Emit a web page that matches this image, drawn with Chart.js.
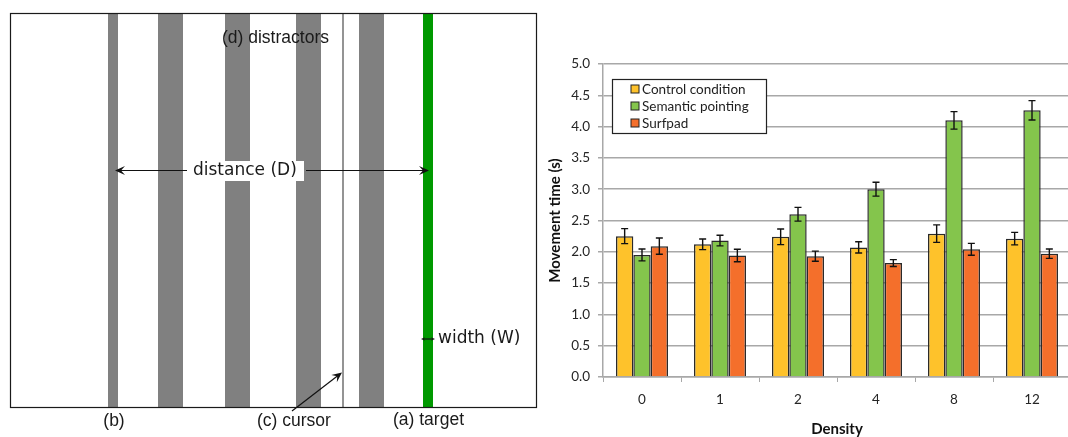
<!DOCTYPE html>
<html><head><meta charset="utf-8">
<script src="https://cdn.jsdelivr.net/npm/chart.js@4/dist/chart.umd.min.js"></script>
<style>
html,body{margin:0;padding:0;background:#fff;width:1068px;height:437px;overflow:hidden}
#left{position:absolute;left:0;top:0}
#right{position:absolute;left:540px;top:0}
</style></head><body>
<canvas id="left" width="546" height="437"></canvas>
<canvas id="right" width="540" height="437"></canvas>
<script>
// ---- Chart data ----
const categories = ['0', '1', '2', '4', '8', '12'];
const seriesNames = ['Control condition', 'Semantic pointing', 'Surfpad'];
const controlTimes = [2.25, 2.12, 2.24, 2.07, 2.29, 2.21];
const semanticTimes = [1.95, 2.18, 2.60, 3.00, 4.10, 4.26];
const surfpadTimes = [2.09, 1.94, 1.93, 1.82, 2.04, 1.97];
const controlErr = [0.12, 0.085, 0.125, 0.09, 0.14, 0.10];
const semanticErr = [0.095, 0.085, 0.11, 0.11, 0.14, 0.155];
const surfpadErr = [0.13, 0.10, 0.08, 0.055, 0.095, 0.075];
const yTickLabels = ['0.0','0.5','1.0','1.5','2.0','2.5','3.0','3.5','4.0','4.5','5.0'];
const xTitle = 'Density';
const yTitle = 'Movement time (s)';

// ---- Diagram content (diagram units) ----
const distractorSpans = [[108, 118], [158, 183], [225, 250], [296, 321], [359, 384]];
const targetSpan = [423, 433];
const cursorPos = 343;
const diagramBox = [10.5, 13.5, 536.5, 407.5];
const diagramTexts = [
  {text: '(d) distractors', x: 222, y: 38, font: '17.5px "Liberation Sans", Arial', align: 'left'},
  {text: '(b)', x: 114, y: 421, font: '17.5px "Liberation Sans", Arial', align: 'center'},
  {text: '(c) cursor', x: 257, y: 421, font: '17.5px "Liberation Sans", Arial', align: 'left'},
  {text: '(a) target', x: 393, y: 420, font: '17.5px "Liberation Sans", Arial', align: 'left'},
  {text: 'distance (D)', x: 193, y: 171, font: '17px "DejaVu Sans"', align: 'left', bg: [189, 161, 304, 181]},
  {text: 'width (W)', x: 438, y: 339, font: '17px "DejaVu Sans"', align: 'left'}
];
const diagramArrows = [
  {from: [187, 170.5], to: [115, 170.5], head: 10},
  {from: [306, 170.5], to: [429, 170.5], head: 10},
  {from: [292, 411], to: [342, 372.5], head: 10},
  {from: [428, 339], to: [421, 339], head: 4},
  {from: [428, 339], to: [435, 339], head: 4}
];

function arrow(ctx, x1, y1, x2, y2, h) {
  const a = Math.atan2(y2 - y1, x2 - x1);
  ctx.beginPath(); ctx.moveTo(x1, y1); ctx.lineTo(x2 - Math.cos(a) * h * 0.5, y2 - Math.sin(a) * h * 0.5); ctx.stroke();
  const w = h * 0.45;
  ctx.beginPath();
  ctx.moveTo(x2, y2);
  ctx.lineTo(x2 - Math.cos(a) * h + Math.sin(a) * w, y2 - Math.sin(a) * h - Math.cos(a) * w);
  ctx.lineTo(x2 - Math.cos(a) * h * 0.6, y2 - Math.sin(a) * h * 0.6);
  ctx.lineTo(x2 - Math.cos(a) * h - Math.sin(a) * w, y2 - Math.sin(a) * h + Math.cos(a) * w);
  ctx.closePath(); ctx.fill();
}

const diagramPlugin = {
  id: 'diagram',
  beforeDatasetsDraw(chart) {
    const ctx = chart.ctx, X = chart.scales.x, Y = chart.scales.y;
    const px = v => X.getPixelForValue(v), py = v => Y.getPixelForValue(v);
    ctx.save();
    const [bx1, by1, bx2, by2] = diagramBox;
    ctx.fillStyle = '#808080';
    distractorSpans.forEach(([a, b]) => ctx.fillRect(px(a), py(by1), px(b) - px(a), py(by2) - py(by1)));
    ctx.fillStyle = '#009900';
    ctx.fillRect(px(targetSpan[0]), py(by1), px(targetSpan[1]) - px(targetSpan[0]), py(by2) - py(by1));
    ctx.strokeStyle = '#707070'; ctx.lineWidth = 1.5;
    ctx.beginPath(); ctx.moveTo(px(cursorPos), py(by1)); ctx.lineTo(px(cursorPos), py(by2)); ctx.stroke();
    ctx.strokeStyle = '#1a1a1a'; ctx.lineWidth = 1.2;
    ctx.strokeRect(px(bx1), py(by1), px(bx2) - px(bx1), py(by2) - py(by1));
    diagramTexts.forEach(t => {
      if (t.bg) { ctx.fillStyle = '#fff'; ctx.fillRect(px(t.bg[0]), py(t.bg[1]), px(t.bg[2]) - px(t.bg[0]), py(t.bg[3]) - py(t.bg[1])); }
      ctx.fillStyle = '#1a1a1a'; ctx.font = t.font; ctx.textAlign = t.align; ctx.textBaseline = 'middle';
      ctx.fillText(t.text, px(t.x), py(t.y));
    });
    ctx.strokeStyle = '#111'; ctx.fillStyle = '#111'; ctx.lineWidth = 1.2;
    diagramArrows.forEach(a => arrow(ctx, px(a.from[0]), py(a.from[1]), px(a.to[0]), py(a.to[1]), a.head));
    ctx.restore();
  }
};

new Chart(document.getElementById('left'), {
  type: 'scatter',
  data: {datasets: []},
  options: {
    responsive: false, animation: false,
    layout: {padding: 0},
    plugins: {legend: {display: false}, tooltip: {enabled: false}},
    scales: {
      x: {type: 'linear', min: 0, max: 546, display: false},
      y: {type: 'linear', min: 0, max: 437, reverse: true, display: false}
    }
  },
  plugins: [diagramPlugin]
});

// ---- Bar chart ----
const FONT = 'Lato';
const gridGray = '#a8a8a8';

const errorBarPlugin = {
  id: 'errorBars',
  afterDatasetsDraw(chart) {
    const ctx = chart.ctx, y = chart.scales.y;
    ctx.save();
    ctx.strokeStyle = '#111'; ctx.lineWidth = 1.4;
    chart.data.datasets.forEach((ds, i) => {
      const meta = chart.getDatasetMeta(i);
      meta.data.forEach((bar, j) => {
        const v = ds.data[j], e = ds.errors[j];
        const t = y.getPixelForValue(v + e), b = y.getPixelForValue(v - e), x = bar.x, c = 3.5;
        ctx.beginPath();
        ctx.moveTo(x, t); ctx.lineTo(x, b);
        ctx.moveTo(x - c, t); ctx.lineTo(x + c, t);
        ctx.moveTo(x - c, b); ctx.lineTo(x + c, b);
        ctx.stroke();
      });
    });
    ctx.restore();
  }
};

const boxLegendPlugin = {
  id: 'boxLegend',
  afterDraw(chart) {
    const ctx = chart.ctx, a = chart.chartArea;
    const x0 = a.left + 9, y0 = a.top + 15, w = 154, h = 54;
    ctx.save();
    ctx.fillStyle = '#fff'; ctx.fillRect(x0, y0, w, h);
    ctx.strokeStyle = '#222'; ctx.lineWidth = 1.2; ctx.strokeRect(x0 + 0.5, y0 + 0.5, w, h);
    ctx.font = '13.5px ' + FONT; ctx.textBaseline = 'middle'; ctx.textAlign = 'left';
    chart.data.datasets.forEach((ds, i) => {
      const cy = y0 + 10.5 + i * 17;
      ctx.fillStyle = ds.backgroundColor;
      ctx.fillRect(x0 + 19, cy - 4.5, 8, 8);
      ctx.strokeStyle = '#222'; ctx.lineWidth = 1;
      ctx.strokeRect(x0 + 19, cy - 4.5, 8, 8);
      ctx.fillStyle = '#1e1e1e';
      ctx.fillText(ds.label, x0 + 30, cy);
    });
    ctx.restore();
  }
};

const seriesColors = ['#FEC22B', '#84C54C', '#F46F2B'];
const seriesValues = [controlTimes, semanticTimes, surfpadTimes];
const seriesErrors = [controlErr, semanticErr, surfpadErr];

new Chart(document.getElementById('right'), {
  type: 'bar',
  data: {
    labels: categories,
    datasets: seriesNames.map((n, i) => ({
      label: n, data: seriesValues[i], errors: seriesErrors[i],
      backgroundColor: seriesColors[i], borderColor: '#2a2a2a', borderWidth: 1.5,
      categoryPercentage: 0.667, barPercentage: 1.0
    }))
  },
  options: {
    responsive: false, animation: false,
    layout: {padding: {left: 0, top: 64, right: 9, bottom: 0}},
    plugins: {legend: {display: false}, tooltip: {enabled: false}},
    scales: {
      x: {
        grid: {display: true, drawOnChartArea: false, drawTicks: true, tickLength: 5, color: gridGray, offset: true},
        border: {color: gridGray, width: 1.5},
        ticks: {color: '#262626', font: {family: FONT, size: 13.5}, padding: 10},
        title: {display: true, text: xTitle, color: '#111', font: {family: FONT, size: 15, weight: 'bold', lineHeight: 1}, padding: {top: 0, bottom: 0}},
        afterFit(s) { s.height = 60; }
      },
      y: {
        min: 0, max: 5,
        grid: {color: gridGray, lineWidth: 1.5, tickLength: 5},
        border: {color: gridGray, width: 1.5},
        ticks: {stepSize: 0.5, color: '#262626', font: {family: FONT, size: 13.5}, padding: 8,
          callback: (v, i) => yTickLabels[Math.round(v / 0.5)]},
        title: {display: true, text: yTitle, color: '#111', font: {family: FONT, size: 15, weight: 'bold', lineHeight: 1}, padding: {top: 8, bottom: 0}},
        afterFit(s) { s.width = 63; }
      }
    }
  },
  plugins: [errorBarPlugin, boxLegendPlugin]
});
</script>
</body></html>
